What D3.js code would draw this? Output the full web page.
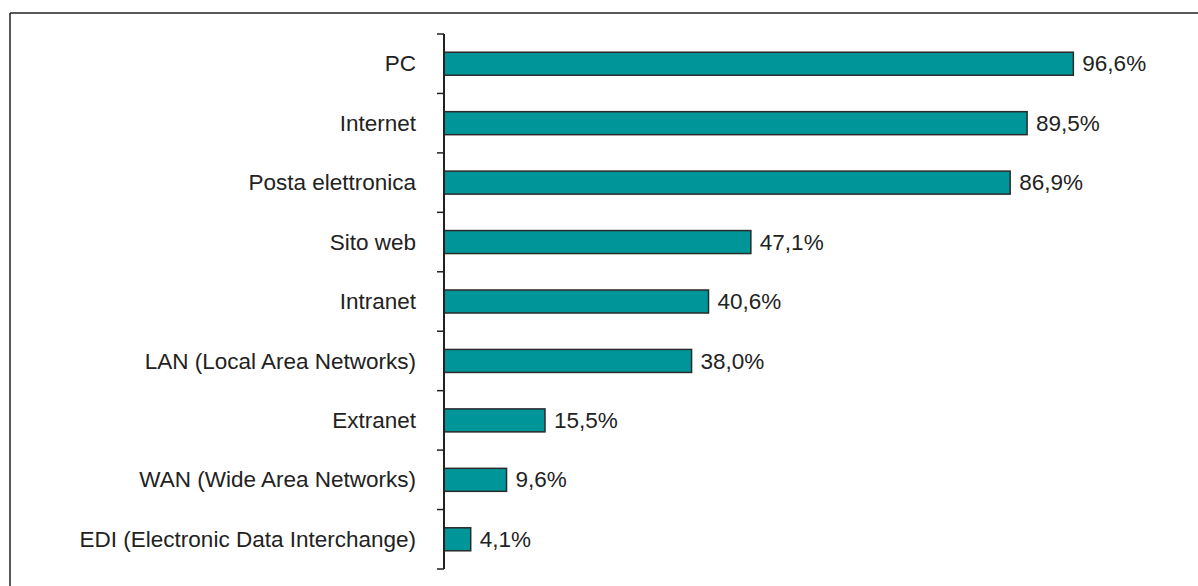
<!DOCTYPE html>
<html><head><meta charset="utf-8">
<script src="https://cdn.jsdelivr.net/npm/d3@7"></script>
<style>body{margin:0;background:#fff;} svg{display:block;}</style>
</head><body>
<script>
const categories = ["PC","Internet","Posta elettronica","Sito web","Intranet","LAN (Local Area Networks)","Extranet","WAN (Wide Area Networks)","EDI (Electronic Data Interchange)"];
const values = [96.6, 89.5, 86.9, 47.1, 40.6, 38.0, 15.5, 9.6, 4.1];
const valueLabels = ["96,6%","89,5%","86,9%","47,1%","40,6%","38,0%","15,5%","9,6%","4,1%"];

const W = 1198, H = 586;
const svg = d3.select("body").append("svg").attr("width", W).attr("height", H);

// frame (top and left edges visible)
svg.append("line").attr("x1",10).attr("x2",W).attr("y1",13).attr("y2",13).attr("stroke","#222").attr("stroke-width",1.5);
svg.append("line").attr("x1",10).attr("x2",10).attr("y1",13).attr("y2",H).attr("stroke","#222").attr("stroke-width",1.5);

const x = d3.scaleLinear().domain([0,100]).range([444, 1095.5]);
const yb = d3.scaleBand().domain(categories).range([34, 569]);

// bars
svg.selectAll("rect.bar").data(categories).enter().append("rect")
  .attr("x", x(0))
  .attr("y", (d) => yb(d) + yb.bandwidth()/2 - 11.5)
  .attr("width", (d,i) => x(values[i]) - x(0))
  .attr("height", 23)
  .attr("fill", "#009699")
  .attr("stroke", "#2a2a2a")
  .attr("stroke-width", 1.5);

// axis line and ticks between bands
svg.append("line").attr("x1",x(0)).attr("x2",x(0)).attr("y1",34).attr("y2",569).attr("stroke","#222").attr("stroke-width",2);
const tickYs = categories.map(c => yb(c)).concat([569]);
svg.selectAll("line.tick").data(tickYs).enter().append("line")
  .attr("x1", x(0)-7).attr("x2", x(0)).attr("y1", d=>d).attr("y2", d=>d)
  .attr("stroke","#222").attr("stroke-width",1.5);

// category labels
svg.selectAll("text.cat").data(categories).enter().append("text")
  .attr("x", x(0) - 28)
  .attr("y", d => yb(d) + yb.bandwidth()/2)
  .attr("dy", "0.34em")
  .attr("text-anchor","end")
  .attr("font-family","Liberation Sans, Arial, sans-serif")
  .attr("font-size", 22.5)
  .attr("fill","#222")
  .text(d => d);

// value labels
svg.selectAll("text.val").data(categories).enter().append("text")
  .attr("x", (d,i) => x(values[i]) + 9)
  .attr("y", d => yb(d) + yb.bandwidth()/2)
  .attr("dy", "0.34em")
  .attr("font-family","Liberation Sans, Arial, sans-serif")
  .attr("font-size", 22.5)
  .attr("fill","#222")
  .text((d,i) => valueLabels[i]);
</script>
</body></html>
